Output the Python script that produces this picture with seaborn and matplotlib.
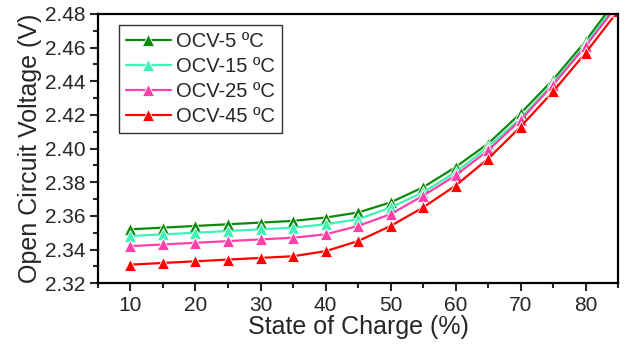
import pandas as pd
import matplotlib
matplotlib.use("Agg")
import matplotlib.pyplot as plt
from matplotlib.ticker import MultipleLocator
import seaborn as sns

# State of charge (%)
soc = [10, 15, 20, 25, 30, 35, 40, 45, 50, 55, 60, 65, 70, 75, 80, 85]

# Open circuit voltage (V) for each temperature
ocv_5 = [2.352, 2.353, 2.354, 2.355, 2.356, 2.357, 2.359, 2.362, 2.368, 2.377,
         2.389, 2.403, 2.421, 2.441, 2.464, 2.490]
ocv_15 = [2.348, 2.349, 2.350, 2.351, 2.352, 2.353, 2.355, 2.358, 2.365, 2.374,
          2.386, 2.401, 2.418, 2.439, 2.462, 2.488]
ocv_25 = [2.342, 2.343, 2.344, 2.345, 2.346, 2.347, 2.349, 2.354, 2.361, 2.372,
          2.384, 2.399, 2.417, 2.438, 2.461, 2.486]
ocv_45 = [2.331, 2.332, 2.333, 2.334, 2.335, 2.336, 2.339, 2.345, 2.354, 2.365,
          2.378, 2.394, 2.413, 2.434, 2.457, 2.482]

labels = ["OCV-5 ºC", "OCV-15 ºC", "OCV-25 ºC", "OCV-45 ºC"]
colors = ["#0a8a0a", "#40f2b4", "#ff40a8", "#ff0000"]

rows = []
for lab, vals in zip(labels, [ocv_5, ocv_15, ocv_25, ocv_45]):
    for s, v in zip(soc, vals):
        rows.append({"SOC": s, "OCV": v, "series": lab})
df = pd.DataFrame(rows)

sns.set_style("ticks")
plt.rcParams["font.family"] = ["Liberation Sans", "DejaVu Sans"]

fig = plt.figure(figsize=(6.4, 3.5), dpi=100)
ax = fig.add_axes([0.153, 0.191, 0.813, 0.769])

sns.lineplot(data=df, x="SOC", y="OCV", hue="series", style="series",
             hue_order=labels, style_order=labels,
             palette=dict(zip(labels, colors)),
             markers={lab: "^" for lab in labels}, dashes=False,
             markersize=9, markeredgewidth=0.6, linewidth=1.6, ax=ax)

ax.set_xlim(5, 85)
ax.set_ylim(2.32, 2.48)
ax.xaxis.set_major_locator(MultipleLocator(10))
ax.xaxis.set_minor_locator(MultipleLocator(5))
ax.yaxis.set_major_locator(MultipleLocator(0.02))
ax.yaxis.set_minor_locator(MultipleLocator(0.01))
ax.yaxis.set_major_formatter(matplotlib.ticker.FormatStrFormatter("%.2f"))
ax.tick_params(which="major", direction="out", length=6, width=1.5,
               labelsize=15, pad=3, top=False, right=False)
ax.tick_params(which="minor", direction="out", length=3.5, width=1.5,
               top=False, right=False)
for sp in ax.spines.values():
    sp.set_visible(True)
    sp.set_linewidth(1.6)
    sp.set_color("black")

ax.set_xlabel("State of Charge (%)", fontsize=18, labelpad=0)
ax.set_ylabel("Open Circuit Voltage (V)", fontsize=18, labelpad=2)

leg = ax.legend(loc="upper left", bbox_to_anchor=(0.041, 0.96), fontsize=14.5,
                frameon=True, fancybox=False, handlelength=2.2,
                handletextpad=0.25, labelspacing=0.3, borderpad=0.35,
                borderaxespad=0)
leg.get_frame().set_edgecolor("black")
leg.get_frame().set_linewidth(1.0)

fig.savefig("out.png", dpi=100)
